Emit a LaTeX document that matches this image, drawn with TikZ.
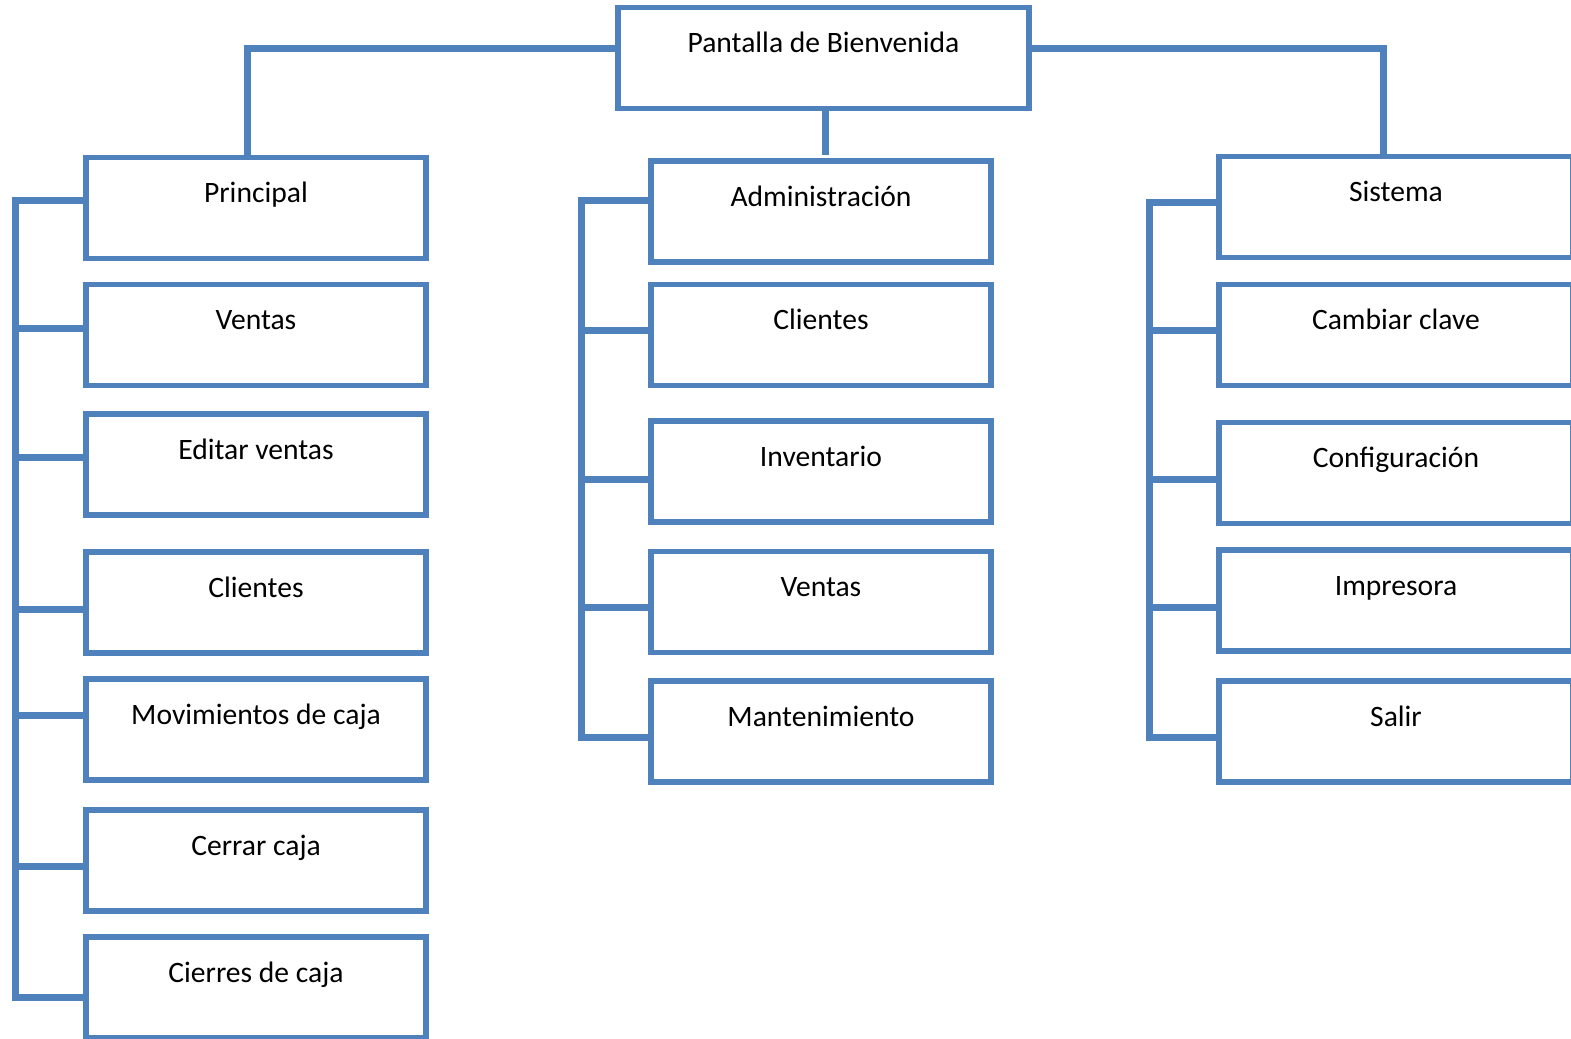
\documentclass[tikz,border=0pt]{standalone}
\usepackage{fontspec}
\setmainfont{Carlito}
\usepackage{tikz}
\definecolor{menu_blue}{RGB}{79, 129, 189}
\tikzstyle{box}=[rectangle,draw=menu_blue,fill=white,line width=2.6pt,inner sep=0pt,
  text height=22.5pt,text depth=28pt,font=\fontsize{14.8pt}{18pt}\selectfont]
\tikzstyle{tbox}=[style=box,minimum width=205.5pt]
\tikzstyle{lbox}=[style=box,minimum width=170pt]
\tikzstyle{rbox}=[style=box,minimum width=177pt]
\tikzstyle{link}=[draw=menu_blue,line width=3.5pt]
\tikzstyle{trunk}=[style=link,line cap=rect]
\tikzstyle{none}=[]

\begin{document}
\begin{tikzpicture}[x=0.5pt,y=-0.5pt]
            \useasboundingbox (0,0) rectangle (1571,1039);
            \node [style=tbox] (0) at (823.5, 58) {Pantalla de Bienvenida};
            \node [style=lbox] (1) at (256, 208) {Principal};
            \node [style=lbox] (2) at (256, 335) {Ventas};
            \node [style=lbox] (3) at (256, 464.5) {Editar ventas};
            \node [style=lbox] (4) at (256, 602.5) {Clientes};
            \node [style=lbox] (5) at (256, 729.5) {Movimientos de caja};
            \node [style=lbox] (6) at (256, 860.5) {Cerrar caja};
            \node [style=lbox] (7) at (256, 987.5) {Cierres de caja};
            \node [style=lbox] (8) at (821, 211.5) {Administración};
            \node [style=lbox] (9) at (821, 335) {Clientes};
            \node [style=lbox] (10) at (821, 471.5) {Inventario};
            \node [style=lbox] (11) at (821, 602) {Ventas};
            \node [style=lbox] (12) at (821, 731.5) {Mantenimiento};
            \node [style=rbox] (13) at (1396, 207) {Sistema};
            \node [style=rbox] (14) at (1396, 335) {Cambiar clave};
            \node [style=rbox] (15) at (1396, 473) {Configuración};
            \node [style=rbox] (16) at (1396, 600.5) {Impresora};
            \node [style=rbox] (17) at (1396, 731.5) {Salir};
            \node [style=none] (20) at (15, 200) {};
            \node [style=none] (21) at (15, 328) {};
            \node [style=none] (22) at (15, 457) {};
            \node [style=none] (23) at (15, 609) {};
            \node [style=none] (24) at (15, 715) {};
            \node [style=none] (25) at (15, 866) {};
            \node [style=none] (26) at (15, 997) {};
            \node [style=none] (27) at (581, 200) {};
            \node [style=none] (28) at (581, 330) {};
            \node [style=none] (29) at (581, 479) {};
            \node [style=none] (30) at (581, 607) {};
            \node [style=none] (31) at (581, 737) {};
            \node [style=none] (32) at (1149, 202) {};
            \node [style=none] (33) at (1149, 330) {};
            \node [style=none] (34) at (1149, 479) {};
            \node [style=none] (35) at (1149, 607) {};
            \node [style=none] (36) at (1149, 737) {};
            \node [style=none] (37) at (247, 48) {};
            \node [style=none] (38) at (1383, 48) {};
            \node [style=none] (39) at (825, 155) {};
            \node [style=none] (40) at (247, 155) {};
            \node [style=none] (41) at (1383, 155) {};
            \draw [style=link] (0.west |- 37.center) to (37.center) to (40.center);
            \draw [style=link] (0.east |- 38.center) to (38.center) to (41.center);
            \draw [style=link] (0.south -| 39.center) to (39.center);
            \draw [style=trunk] (20.center) to (26.center);
            \draw [style=trunk] (27.center) to (31.center);
            \draw [style=trunk] (32.center) to (36.center);
            \draw [style=link] (20.center) to (20.center -| 1.west);
            \draw [style=link] (21.center) to (21.center -| 2.west);
            \draw [style=link] (22.center) to (22.center -| 3.west);
            \draw [style=link] (23.center) to (23.center -| 4.west);
            \draw [style=link] (24.center) to (24.center -| 5.west);
            \draw [style=link] (25.center) to (25.center -| 6.west);
            \draw [style=link] (26.center) to (26.center -| 7.west);
            \draw [style=link] (27.center) to (27.center -| 8.west);
            \draw [style=link] (28.center) to (28.center -| 9.west);
            \draw [style=link] (29.center) to (29.center -| 10.west);
            \draw [style=link] (30.center) to (30.center -| 11.west);
            \draw [style=link] (31.center) to (31.center -| 12.west);
            \draw [style=link] (32.center) to (32.center -| 13.west);
            \draw [style=link] (33.center) to (33.center -| 14.west);
            \draw [style=link] (34.center) to (34.center -| 15.west);
            \draw [style=link] (35.center) to (35.center -| 16.west);
            \draw [style=link] (36.center) to (36.center -| 17.west);
    \end{tikzpicture}
\end{document}
